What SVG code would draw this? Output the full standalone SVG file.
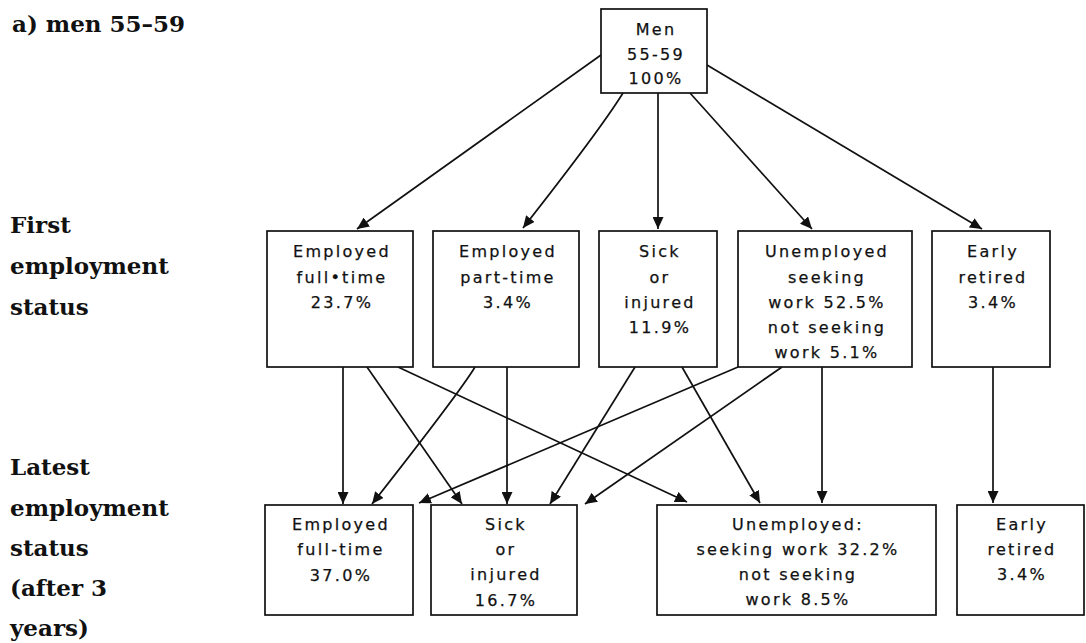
<svg xmlns="http://www.w3.org/2000/svg" width="1086" height="643" viewBox="0 0 1086 643">
<style>
.bg{fill:#fff}
.box{fill:#fff;stroke:#111;stroke-width:1.7}
.t{font-family:"DejaVu Sans",sans-serif;font-size:16px;letter-spacing:2.3px;fill:#111;stroke:#111;stroke-width:0.25;text-anchor:middle}
.lab{font-family:"DejaVu Serif",serif;font-weight:bold;font-size:23px;fill:#111}
.c{fill:none;stroke:#111;stroke-width:1.7;marker-end:url(#ah)}
</style>
<defs>
<marker id="ah" markerUnits="userSpaceOnUse" markerWidth="13" markerHeight="11" refX="12" refY="5.5" orient="auto">
<path d="M0,0 L12,5.5 L0,11 z" fill="#111"/>
</marker>
</defs>
<rect class="bg" x="0" y="0" width="1086" height="643"/>
<g id="labels">
<text class="lab" x="12" y="32">a) men 55–59</text>
<text class="lab" x="10" y="233">First</text>
<text class="lab" x="10" y="274">employment</text>
<text class="lab" x="10" y="315">status</text>
<text class="lab" x="10" y="475">Latest</text>
<text class="lab" x="10" y="516">employment</text>
<text class="lab" x="10" y="556">status</text>
<text class="lab" x="10" y="596">(after 3</text>
<text class="lab" x="10" y="636">years)</text>
</g>
<g id="connectors">
<path class="c" d="M601,55 L357,229"/>
<path class="c" d="M623,93 Q600,130 523,228"/>
<path class="c" d="M658,93 L658,229"/>
<path class="c" d="M690,93 L812,229"/>
<path class="c" d="M707,65 L982,229"/>
<path class="c" d="M343,367 L343,504"/>
<path class="c" d="M367,367 L462,504"/>
<path class="c" d="M398,367 L687,502"/>
<path class="c" d="M475,367 Q460,392 372,504"/>
<path class="c" d="M507,367 L507,504"/>
<path class="c" d="M635,367 L550,504"/>
<path class="c" d="M682,367 L760,503"/>
<path class="c" d="M738,367 L419,503"/>
<path class="c" d="M782,367 L585,504"/>
<path class="c" d="M822,367 L822,503"/>
<path class="c" d="M993,367 L993,503"/>
</g>
<g id="n-men">
<rect class="box" x="601" y="9" width="106" height="84"/>
<text class="t" x="656" y="35">Men</text>
<text class="t" x="656" y="60">55-59</text>
<text class="t" x="656" y="84">100%</text>
</g>
<g id="n-f-fulltime">
<rect class="box" x="267" y="231" width="146" height="136"/>
<text class="t" x="342" y="257">Employed</text>
<text class="t" x="342" y="283">full•time</text>
<text class="t" x="342" y="308">23.7%</text>
</g>
<g id="n-f-parttime">
<rect class="box" x="433" y="231" width="146" height="136"/>
<text class="t" x="508" y="257">Employed</text>
<text class="t" x="508" y="283">part-time</text>
<text class="t" x="508" y="308">3.4%</text>
</g>
<g id="n-f-sick">
<rect class="box" x="599" y="231" width="118" height="136"/>
<text class="t" x="660" y="257">Sick</text>
<text class="t" x="660" y="283">or</text>
<text class="t" x="660" y="308">injured</text>
<text class="t" x="660" y="333">11.9%</text>
</g>
<g id="n-f-unemployed">
<rect class="box" x="738" y="231" width="174" height="136"/>
<text class="t" x="827" y="257">Unemployed</text>
<text class="t" x="827" y="283">seeking</text>
<text class="t" x="827" y="308">work 52.5%</text>
<text class="t" x="827" y="333">not seeking</text>
<text class="t" x="827" y="358">work 5.1%</text>
</g>
<g id="n-f-early">
<rect class="box" x="932" y="231" width="118" height="136"/>
<text class="t" x="993" y="257">Early</text>
<text class="t" x="993" y="283">retired</text>
<text class="t" x="993" y="308">3.4%</text>
</g>
<g id="n-l-fulltime">
<rect class="box" x="265" y="505" width="148" height="110"/>
<text class="t" x="341" y="530">Employed</text>
<text class="t" x="341" y="555">full-time</text>
<text class="t" x="341" y="581">37.0%</text>
</g>
<g id="n-l-sick">
<rect class="box" x="431" y="505" width="146" height="110"/>
<text class="t" x="506" y="530">Sick</text>
<text class="t" x="506" y="555">or</text>
<text class="t" x="506" y="580">injured</text>
<text class="t" x="506" y="606">16.7%</text>
</g>
<g id="n-l-unemployed">
<rect class="box" x="657" y="505" width="279" height="110"/>
<text class="t" x="798" y="530">Unemployed:</text>
<text class="t" x="798" y="555">seeking work 32.2%</text>
<text class="t" x="798" y="580">not seeking</text>
<text class="t" x="798" y="605">work 8.5%</text>
</g>
<g id="n-l-early">
<rect class="box" x="957" y="505" width="127" height="110"/>
<text class="t" x="1022" y="530">Early</text>
<text class="t" x="1022" y="555">retired</text>
<text class="t" x="1022" y="580">3.4%</text>
</g>
</svg>
